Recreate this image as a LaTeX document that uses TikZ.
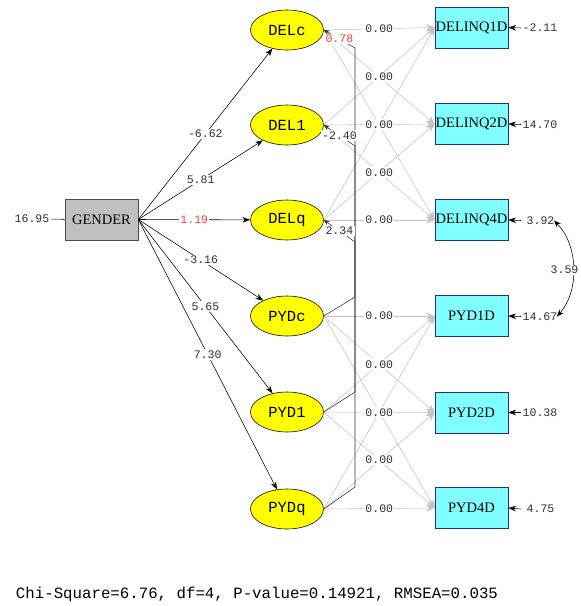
\documentclass[tikz,border=0pt]{standalone}
\usepackage{fontspec}
\setmainfont{Liberation Serif}
\setmonofont{Liberation Mono}
\usetikzlibrary{arrows.meta,shapes.geometric}

\definecolor{giallo}{RGB}{255,255,0}
\definecolor{ciano}{RGB}{128,255,255}
\definecolor{bordoblu}{RGB}{40,40,150}
\definecolor{grigiobox}{RGB}{192,192,192}
\definecolor{grigiolinea}{RGB}{195,195,195}
\definecolor{testoval}{RGB}{45,45,70}
\definecolor{rosso}{RGB}{255,60,60}

\begin{document}
\begin{tikzpicture}[x=0.025cm, y=-0.025cm]
    % Definizione stili
    \tikzstyle{latente}=[draw, fill=giallo, ellipse, minimum width=1.825cm, minimum height=1cm, inner sep=0pt, font=\fontsize{11}{11}\ttfamily]
    \tikzstyle{osservata}=[draw=bordoblu, fill=ciano, minimum width=1.825cm, minimum height=1.025cm, inner sep=0pt, font=\fontsize{10.3}{10.3}\selectfont]
    \tikzstyle{esogena}=[draw=black!70, fill=grigiobox, minimum width=1.825cm, minimum height=1.025cm, inner sep=0pt, font=\fontsize{10.3}{10.3}\selectfont]
    \tikzstyle{valore}=[fill=white, inner sep=1pt, text=testoval, font=\fontsize{8.2}{8.2}\ttfamily]
    \tikzstyle{effetto}=[-{Stealth[length=5.5pt,width=4pt]}, black]
    \tikzstyle{nullo}=[-{Stealth[length=6pt,width=5pt]}, grigiolinea]
    \tikzstyle{covar}=[{Stealth[length=4pt,width=3.5pt]}-, black!80]
    \tikzstyle{doppia}=[{Stealth[length=5pt,width=4pt]}-{Stealth[length=5pt,width=4pt]}, black]

    \useasboundingbox (0,0) rectangle (580,606);

    % Variabile esogena
    \node[esogena] (gender) at (101.5,219.5) {GENDER};
    \node[valore, anchor=east] (errg) at (51,219) {16.95};

    % Variabili latenti
    \node[latente] (delc) at (287,30) {DELc};
    \node[latente] (del1) at (287,125) {DEL1};
    \node[latente] (delq) at (287,220) {DELq};
    \node[latente] (pydc) at (287,316) {PYDc};
    \node[latente] (pyd1) at (287,412) {PYD1};
    \node[latente] (pydq) at (287,509) {PYDq};

    % Variabili osservate
    \node[osservata] (dq1) at (471.5,27.5) {DELINQ1D};
    \node[osservata] (dq2) at (471.5,124) {DELINQ2D};
    \node[osservata] (dq4) at (471.5,220) {DELINQ4D};
    \node[osservata] (pd1) at (471.5,316) {PYD1D};
    \node[osservata] (pd2) at (471.5,412.5) {PYD2D};
    \node[osservata] (pd4) at (471.5,508) {PYD4D};

    % Errori delle osservate
    \node[valore, anchor=west] (e1) at (521,28) {-2.11};
    \node[valore, anchor=west] (e2) at (521,124.5) {14.70};
    \node[valore, anchor=west] (e3) at (525,220.5) {3.92};
    \node[valore, anchor=west] (e4) at (521,316.5) {14.67};
    \node[valore, anchor=west] (e5) at (521,412.5) {10.38};
    \node[valore, anchor=west] (e6) at (525,509) {4.75};

    % Frecce nulle verso le osservate
    \foreach \a in {delc,del1,delq}
        \foreach \b in {dq1,dq2,dq4}
            \draw[nullo] (\a.east) -- (\b.west);
    \foreach \a in {pydc,pyd1,pydq}
        \foreach \b in {pd1,pd2,pd4}
            \draw[nullo] (\a.east) -- (\b.west);

    % Covarianze tra le latenti
    \draw[covar] (delc.east) -- (355,48) -- (355,297) -- (pydc.east);
    \draw[covar] (del1.east) -- (355,146) -- (355,392) -- (pyd1.east);
    \draw[covar] (delq.east) -- (355,242) -- (355,487) -- (pydq.east);

    % Effetti di GENDER
    \draw[black] (errg) -- (gender);
    \draw[effetto] (gender.east) -- node[valore]{-6.62} (delc);
    \draw[effetto] (gender.east) -- node[valore]{5.81} (del1);
    \draw[effetto] (gender.east) -- node[valore, text=rosso]{1.19} (delq);
    \draw[effetto] (gender.east) -- node[valore]{-3.16} (pydc);
    \draw[effetto] (gender.east) -- node[valore]{5.65} (pyd1);
    \draw[effetto] (gender.east) -- node[valore]{7.30} (pydq);

    % Frecce degli errori
    \draw[effetto] (e1.west) -- (dq1.east);
    \draw[effetto] (e2.west) -- (dq2.east);
    \draw[effetto] ([xshift=-0.1cm]e3.west) -- (dq4.east);
    \draw[effetto] (e4.west) -- (pd1.east);
    \draw[effetto] (e5.west) -- (pd2.east);
    \draw[effetto] ([xshift=-0.1cm]e6.west) -- (pd4.east);

    % Covarianza tra errori
    \draw[doppia] ([xshift=-0.05cm]e3.east) .. controls (578,245) and (580,290) .. ([xshift=-0.05cm]e4.east);
    \node[valore, anchor=west] (c34) at (549,270) {3.59};

    % Etichette
    \path (delc.east) -- node[valore]{0.00} (dq1.west);
    \path (delc.east) -- node[valore]{0.00} (dq2.west);
    \path (del1.east) -- node[valore]{0.00} (dq2.west);
    \path (del1.east) -- node[valore]{0.00} (dq4.west);
    \path (delq.east) -- node[valore]{0.00} (dq4.west);
    \path (pydc.east) -- node[valore]{0.00} (pd1.west);
    \path (pydc.east) -- node[valore]{0.00} (pd2.west);
    \path (pyd1.east) -- node[valore]{0.00} (pd2.west);
    \path (pyd1.east) -- node[valore]{0.00} (pd4.west);
    \path (pydq.east) -- node[valore]{0.00} (pd4.west);
    \path (delc.east) -- node[valore, text=rosso]{0.78} (355,48);
    \path (del1.east) -- node[valore]{-2.40} (355,146);
    \path (delq.east) -- node[valore]{2.34} (355,242);

    % Indici di adattamento
    \node[anchor=west, font=\fontsize{11.2}{11.2}\ttfamily] (fit) at (11,594) {Chi-Square=6.76, df=4, P-value=0.14921, RMSEA=0.035};
\end{tikzpicture}
\end{document}
